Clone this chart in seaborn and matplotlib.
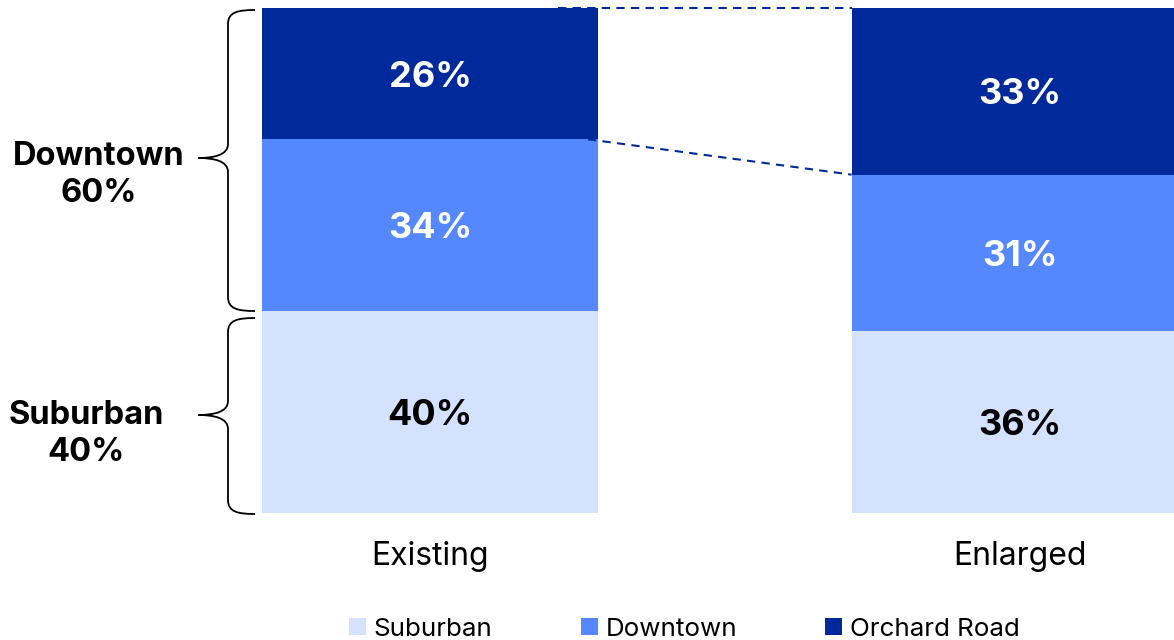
import matplotlib
matplotlib.use("Agg")
import matplotlib.pyplot as plt
from matplotlib.path import Path
from matplotlib.patches import PathPatch, Patch
import seaborn as sns
import pandas as pd

scenarios = ["Existing", "Enlarged"]
segments = ["Suburban", "Downtown", "Orchard Road"]
suburban = [40, 36]
downtown = [34, 31]
orchard = [26, 33]
group_labels = ["Downtown\n60%", "Suburban\n40%"]
colors = {"Suburban": "#D4E1FF", "Downtown": "#5588FF", "Orchard Road": "#00299B"}
text_colors = {"Suburban": "black", "Downtown": "white", "Orchard Road": "white"}

sns.set_theme(style="white")
plt.rcParams["font.family"] = ["Inter", "DejaVu Sans"]
plt.rcParams["text.color"] = "black"
plt.rcParams["xtick.color"] = "black"

W, H = 1174, 640
fig = plt.figure(figsize=(W / 100, H / 100), dpi=100)
ax = fig.add_axes([0, (H - 513) / H, 1, (513 - 8) / H])

df = pd.DataFrame({"scenario": scenarios, "Suburban": suburban,
                   "Downtown": downtown, "Orchard Road": orchard})
bw = 0.571
fs_val = 26
bottoms = [0, 0]
for seg in segments:
    sns.barplot(data=df, x="scenario", y=seg, color=colors[seg], width=bw,
                bottom=bottoms, ax=ax, saturation=1, linewidth=0)
    for i, (b, v) in enumerate(zip(bottoms, df[seg])):
        ax.annotate(f"{v}%", (i, b + v / 2), xytext=(0, -0.727 * fs_val / 2),
                    textcoords="offset points", ha="center", va="baseline",
                    fontsize=fs_val, fontweight="bold", color=text_colors[seg])
    bottoms = [b + v for b, v in zip(bottoms, df[seg])]

x0 = -430 / 590
ax.set_xlim(x0, x0 + W / 590)
ax.set_ylim(0, 100)
ax.set_ylabel("")
ax.set_xlabel("")
ax.set_yticks([])
ax.tick_params(axis="x", length=0, pad=20, labelsize=23, labelcolor="black")
sns.despine(ax=ax, left=True, bottom=True)


def px2x(p):
    return x0 + p / 590


def px2y(p):
    return (513 - p) / 505 * 100


# dashed connectors
e_cum = [suburban[0], suburban[0] + downtown[0], 100]
n_cum = [suburban[1], suburban[1] + downtown[1], 100]
starts = {1: px2x(588), 2: px2x(558)}
for k in (1, 2):
    ax.plot([starts[k], 1 - bw / 2], [e_cum[k], n_cum[k]], ls=(0, (4, 3)),
            color="#00299B", lw=1.5, zorder=3, clip_on=False)


def brace(ytop, ybot, ytip):
    xs, xe, xt = 228, 255, 198
    verts = [
        (xe, ytop), (238, ytop), (xs, ytop + 2), (xs, ytop + 14),
        (xs, ytip - 14),
        (xs, ytip - 3), (214, ytip), (xt, ytip),
        (214, ytip), (xs, ytip + 3), (xs, ytip + 14),
        (xs, ybot - 14),
        (xs, ybot - 2), (238, ybot), (xe, ybot),
    ]
    codes = [Path.MOVETO, Path.CURVE4, Path.CURVE4, Path.CURVE4,
             Path.LINETO,
             Path.CURVE4, Path.CURVE4, Path.CURVE4,
             Path.CURVE4, Path.CURVE4, Path.CURVE4,
             Path.LINETO,
             Path.CURVE4, Path.CURVE4, Path.CURVE4]
    v = [(px2x(a), px2y(b)) for a, b in verts]
    ax.add_patch(PathPatch(Path(v, codes), fill=False, lw=1.3, color="black",
                           clip_on=False))


brace(10, 311, 158)
brace(318, 514, 415)
ax.text(px2x(99), px2y(175), group_labels[0], ha="center", va="center",
        fontsize=23.5, fontweight="bold", linespacing=1.22, clip_on=False, color="black")
ax.text(px2x(86), px2y(434), group_labels[1], ha="center", va="center",
        fontsize=23.5, fontweight="bold", linespacing=1.28, clip_on=False, color="black")

handles = [Patch(facecolor=colors[s], edgecolor="none") for s in segments]
leg = fig.legend(handles, segments, loc="center", bbox_to_anchor=(0.583, 1 - 629 / H),
                 ncol=3, frameon=False, fontsize=18.7, handlelength=0.65, handleheight=0.65,
                 handletextpad=0.3, columnspacing=3.4)
for t in leg.get_texts():
    t.set_color("black")

fig.savefig("out.png", dpi=100)
